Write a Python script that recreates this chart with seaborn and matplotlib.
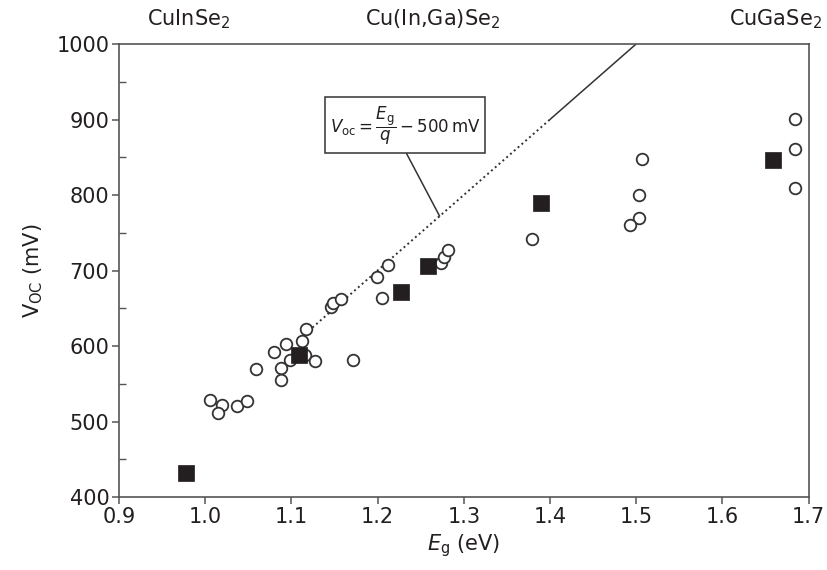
import matplotlib
matplotlib.use("Agg")
import matplotlib.pyplot as plt
import seaborn as sns
import pandas as pd
import numpy as np
from matplotlib.patches import Rectangle
from matplotlib.ticker import MultipleLocator
import matplotlib.transforms as mtransforms

# ---- data ----
circle_eg = [1.117, 1.112, 1.094, 1.080, 1.098, 1.116, 1.127, 1.171, 1.059, 1.088,
             1.088, 1.006, 1.019, 1.015, 1.037, 1.049, 1.146, 1.148, 1.158, 1.199,
             1.212, 1.205, 1.274, 1.277, 1.282, 1.379, 1.507, 1.503, 1.503, 1.493,
             1.684, 1.684, 1.684]
circle_voc = [623, 607, 602, 592, 581, 588, 580, 581, 570, 571,
              555, 528, 522, 511, 521, 527, 651, 657, 662, 691,
              707, 664, 710, 718, 727, 742, 848, 800, 770, 760,
              901, 861, 809]

square_eg = [0.978, 1.109, 1.227, 1.258, 1.390, 1.659]
square_voc = [432, 588, 671, 706, 790, 846]

# model line Voc = Eg/q - 500 mV
dotted_eg = [1.12, 1.40]
solid_eg = [1.40, 1.50]
offset_mv = 500

top_labels = ["CuInSe$_2$", "Cu(In,Ga)Se$_2$", "CuGaSe$_2$"]
top_label_x = [0.981, 1.264, 1.662]

x_ticks = [0.9, 1.0, 1.1, 1.2, 1.3, 1.4, 1.5, 1.6, 1.7]
y_ticks = [400, 500, 600, 700, 800, 900, 1000]

# ---- styling ----
sns.set_style("ticks")
plt.rcParams['font.family'] = ['DejaVu Sans']
plt.rcParams['mathtext.fontset'] = 'dejavusans'
txt = "#231f20"
spine_c = "#555555"

fig = plt.figure(figsize=(8.27, 5.70), dpi=100)
ax = fig.add_axes([119/827, 1-497/570, (808.5-119)/827, (497-44)/570])

df_c = pd.DataFrame({"Eg": circle_eg, "Voc": circle_voc})
df_s = pd.DataFrame({"Eg": square_eg, "Voc": square_voc})
df_dot = pd.DataFrame({"Eg": dotted_eg, "Voc": [1000*e - offset_mv for e in dotted_eg]})
df_sol = pd.DataFrame({"Eg": solid_eg, "Voc": [1000*e - offset_mv for e in solid_eg]})

sns.lineplot(data=df_dot, x="Eg", y="Voc", ax=ax, color="#333333", lw=1.4,
             linestyle=(0, (1, 1.6)), zorder=1)
sns.lineplot(data=df_sol, x="Eg", y="Voc", ax=ax, color="#333333", lw=1.1, zorder=1)

sns.scatterplot(data=df_c, x="Eg", y="Voc", ax=ax, marker="o", s=70,
                facecolor="white", edgecolor="#333333", linewidth=1.3, zorder=3)
sns.scatterplot(data=df_s, x="Eg", y="Voc", ax=ax, marker="s", s=130,
                color=txt, edgecolor=txt, linewidth=0.5, zorder=4)

ax.set_xlim(0.9, 1.7)
ax.set_ylim(400, 1000)
ax.set_xticks(x_ticks)
ax.set_xticklabels([f"{t:.1f}" for t in x_ticks])
ax.set_yticks(y_ticks)
ax.yaxis.set_minor_locator(MultipleLocator(50))

for s in ax.spines.values():
    s.set_color(spine_c)
    s.set_linewidth(1.2)

ax.tick_params(axis="both", which="major", direction="out", length=5, width=1.1,
               color=spine_c, labelsize=15, labelcolor=txt, pad=2)
ax.tick_params(axis="y", which="minor", direction="in", length=5, width=1.0,
               color=spine_c, left=True)

ax.set_xlabel("$E_{\\mathrm{g}}$ (eV)", fontsize=15, color=txt, labelpad=4)
ax.set_ylabel("V$_{\\mathrm{OC}}$ (mV)", fontsize=15, color=txt, labelpad=8)

# top composition labels
trans = mtransforms.blended_transform_factory(ax.transData, ax.transAxes)
for lab, xv in zip(top_labels, top_label_x):
    ax.text(xv, 1.040, lab, transform=trans, ha="center", va="baseline",
            fontsize=15, color=txt, clip_on=False)

# annotation box with equation
ax.add_patch(Rectangle((1.139, 855), 0.1856, 74.4, facecolor="white",
                       edgecolor="#333333", lw=1.1, zorder=5))
ax.text(1.232, 892, r"$V_{\mathrm{oc}} = \dfrac{E_{\mathrm{g}}}{q} - 500\,\mathrm{mV}$",
        ha="center", va="center", fontsize=12, color=txt, zorder=6)
ax.plot([1.2336, 1.272], [855, 772], color="#333333", lw=1.1, zorder=2)

fig.savefig("out.png", dpi=100)
